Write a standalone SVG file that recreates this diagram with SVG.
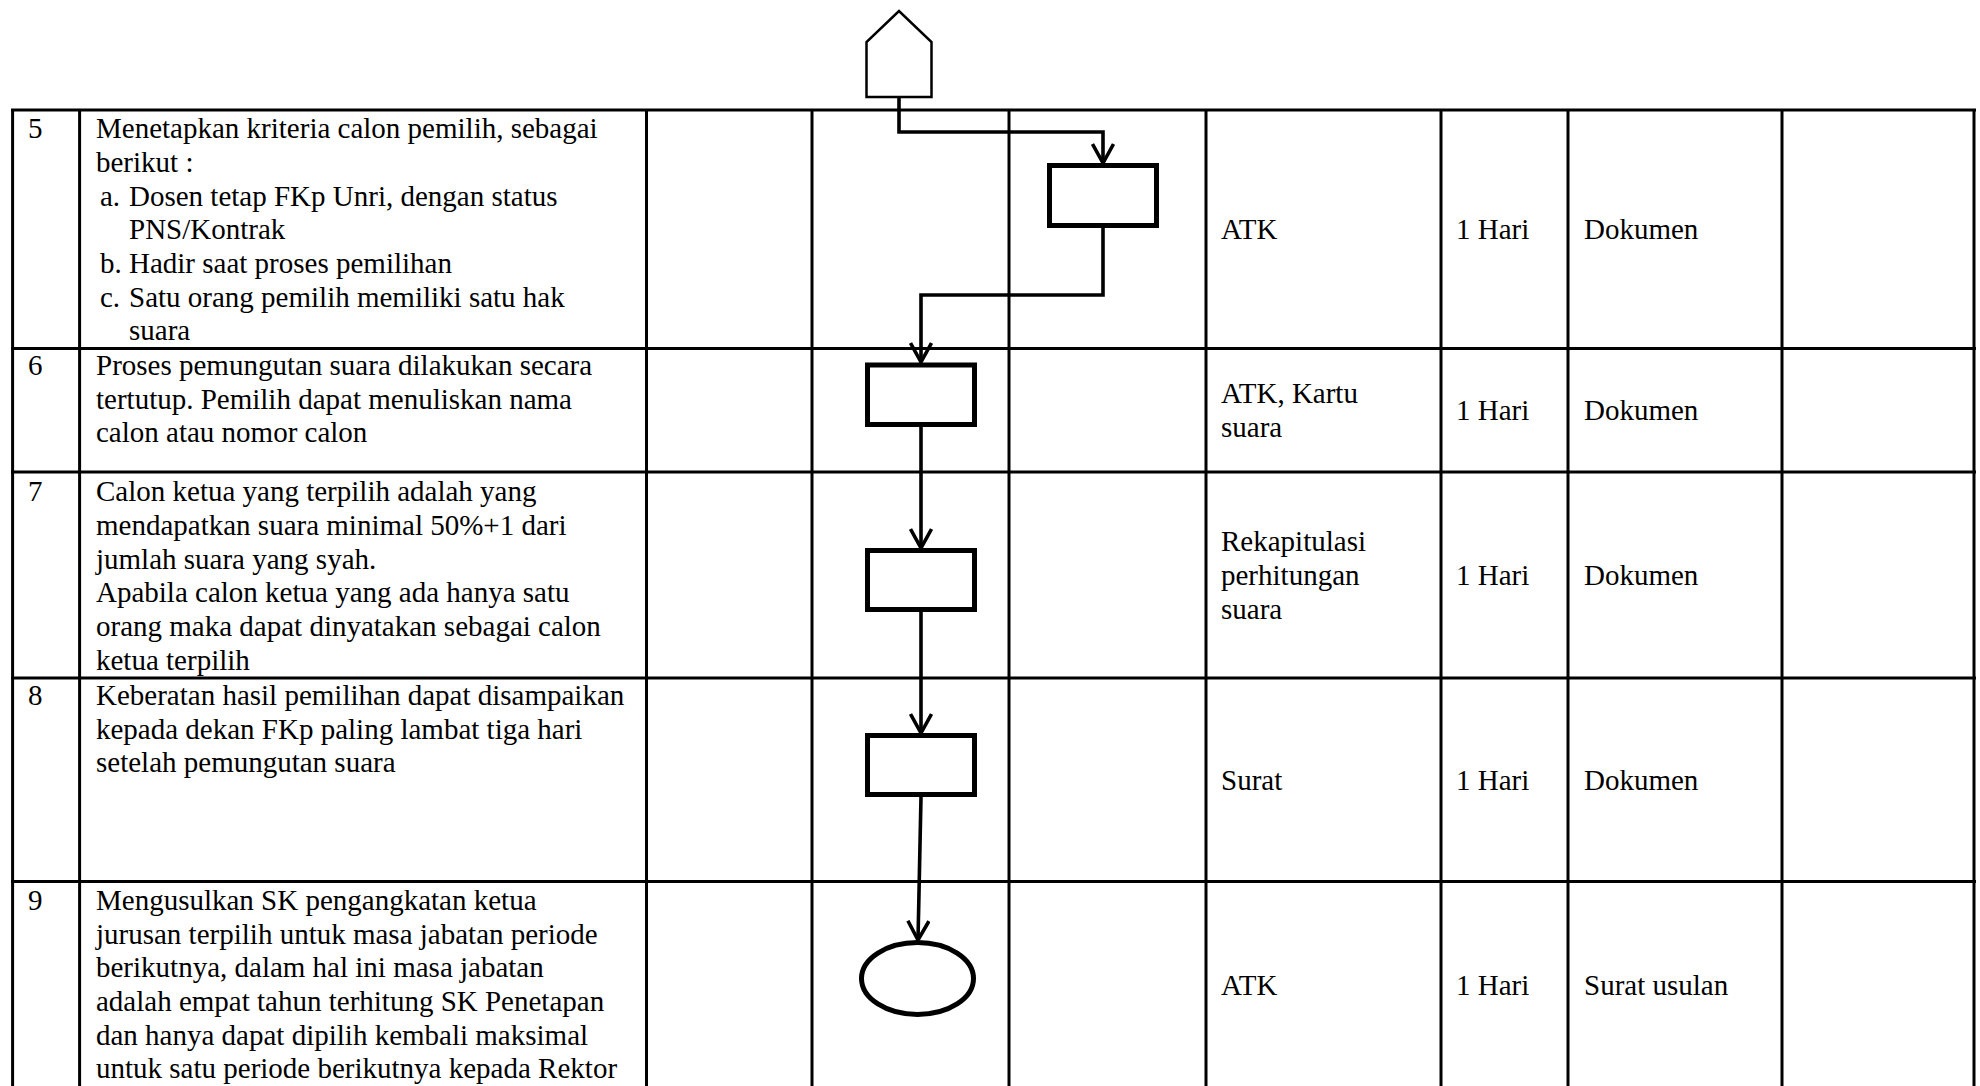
<svg xmlns="http://www.w3.org/2000/svg" width="1980" height="1086" viewBox="0 0 1980 1086">
<style>
.t{font-family:"Liberation Serif","Times New Roman",serif;font-size:29px;fill:#000}
.grid{stroke:#000;stroke-width:3;fill:none}
.box{fill:#fff;stroke:#000;stroke-width:5}
.conn{fill:none;stroke:#000;stroke-width:3.6}
</style>
<defs>
<marker id="arr" viewBox="0 0 22 24" refX="20" refY="12" markerWidth="22" markerHeight="24" markerUnits="userSpaceOnUse" orient="auto">
<path d="M1,1.5 L20,12 L1,22.5" fill="none" stroke="#000" stroke-width="3.6"/>
</marker>
</defs>
<rect width="1980" height="1086" fill="#fff"/>
<g id="table" class="grid">
<line x1="11" y1="110" x2="1976" y2="110"/>
<line x1="11" y1="348.5" x2="1976" y2="348.5"/>
<line x1="11" y1="472" x2="1976" y2="472"/>
<line x1="11" y1="678" x2="1976" y2="678"/>
<line x1="11" y1="881.5" x2="1976" y2="881.5"/>
<line x1="12.6" y1="110" x2="12.6" y2="1086"/>
<line x1="79.6" y1="110" x2="79.6" y2="1086"/>
<line x1="646.5" y1="110" x2="646.5" y2="1086"/>
<line x1="812" y1="110" x2="812" y2="1086"/>
<line x1="1009" y1="110" x2="1009" y2="1086"/>
<line x1="1206" y1="110" x2="1206" y2="1086"/>
<line x1="1441" y1="110" x2="1441" y2="1086"/>
<line x1="1568" y1="110" x2="1568" y2="1086"/>
<line x1="1782" y1="110" x2="1782" y2="1086"/>
<line x1="1974" y1="110" x2="1974" y2="1086"/>
</g>
<g id="row5-text" class="t">
<text x="28" y="138">5</text>
<text x="96" y="138">Menetapkan kriteria calon pemilih, sebagai</text>
<text x="96" y="172">berikut :</text>
<text x="100" y="206">a.</text><text x="129" y="206">Dosen tetap FKp Unri, dengan status</text>
<text x="129" y="239">PNS/Kontrak</text>
<text x="100" y="273">b.</text><text x="129" y="273">Hadir saat proses pemilihan</text>
<text x="100" y="307">c.</text><text x="129" y="307">Satu orang pemilih memiliki satu hak</text>
<text x="129" y="340">suara</text>
<text x="1221" y="239">ATK</text>
<text x="1456" y="239">1 Hari</text>
<text x="1584" y="239">Dokumen</text>
</g>
<g id="row6-text" class="t">
<text x="28" y="375">6</text>
<text x="96" y="375">Proses pemungutan suara dilakukan secara</text>
<text x="96" y="409">tertutup. Pemilih dapat menuliskan nama</text>
<text x="96" y="442">calon atau nomor calon</text>
<text x="1221" y="403">ATK, Kartu</text>
<text x="1221" y="437">suara</text>
<text x="1456" y="420">1 Hari</text>
<text x="1584" y="420">Dokumen</text>
</g>
<g id="row7-text" class="t">
<text x="28" y="501">7</text>
<text x="96" y="501">Calon ketua yang terpilih adalah yang</text>
<text x="96" y="535">mendapatkan suara minimal 50%+1 dari</text>
<text x="96" y="569">jumlah suara yang syah.</text>
<text x="96" y="602">Apabila calon ketua yang ada hanya satu</text>
<text x="96" y="636">orang maka dapat dinyatakan sebagai calon</text>
<text x="96" y="670">ketua terpilih</text>
<text x="1221" y="551">Rekapitulasi</text>
<text x="1221" y="585">perhitungan</text>
<text x="1221" y="619">suara</text>
<text x="1456" y="585">1 Hari</text>
<text x="1584" y="585">Dokumen</text>
</g>
<g id="row8-text" class="t">
<text x="28" y="705">8</text>
<text x="96" y="705">Keberatan hasil pemilihan dapat disampaikan</text>
<text x="96" y="739">kepada dekan FKp paling lambat tiga hari</text>
<text x="96" y="772">setelah pemungutan suara</text>
<text x="1221" y="790">Surat</text>
<text x="1456" y="790">1 Hari</text>
<text x="1584" y="790">Dokumen</text>
</g>
<g id="row9-text" class="t">
<text x="28" y="910">9</text>
<text x="96" y="910">Mengusulkan SK pengangkatan ketua</text>
<text x="96" y="944">jurusan terpilih untuk masa jabatan periode</text>
<text x="96" y="977">berikutnya, dalam hal ini masa jabatan</text>
<text x="96" y="1011">adalah empat tahun terhitung SK Penetapan</text>
<text x="96" y="1045">dan hanya dapat dipilih kembali maksimal</text>
<text x="96" y="1078">untuk satu periode berikutnya kepada Rektor</text>
<text x="1221" y="995">ATK</text>
<text x="1456" y="995">1 Hari</text>
<text x="1584" y="995">Surat usulan</text>
</g>
<g id="connectors" class="conn">
<path d="M899,97 V132 H1103 V163" marker-end="url(#arr)"/>
<path d="M1103,228 V295 H921 V362" marker-end="url(#arr)"/>
<path d="M921,427 V548" marker-end="url(#arr)"/>
<path d="M921,612 V733" marker-end="url(#arr)"/>
<path d="M921,797 L918,940" marker-end="url(#arr)"/>
</g>
<g id="node-offpage">
<polygon points="866.5,97 866.5,42 899,11 931.5,42 931.5,97" fill="#fff" stroke="#000" stroke-width="2.5"/>
</g>
<g id="node-step5"><rect class="box" x="1049.5" y="165.5" width="107" height="60"/></g>
<g id="node-step6"><rect class="box" x="867.5" y="365" width="107" height="59.5"/></g>
<g id="node-step7"><rect class="box" x="867.5" y="550.5" width="107" height="59"/></g>
<g id="node-step8"><rect class="box" x="867.5" y="735.5" width="107" height="59"/></g>
<g id="node-end"><ellipse class="box" cx="917.5" cy="978.5" rx="56" ry="36"/></g>
</svg>
